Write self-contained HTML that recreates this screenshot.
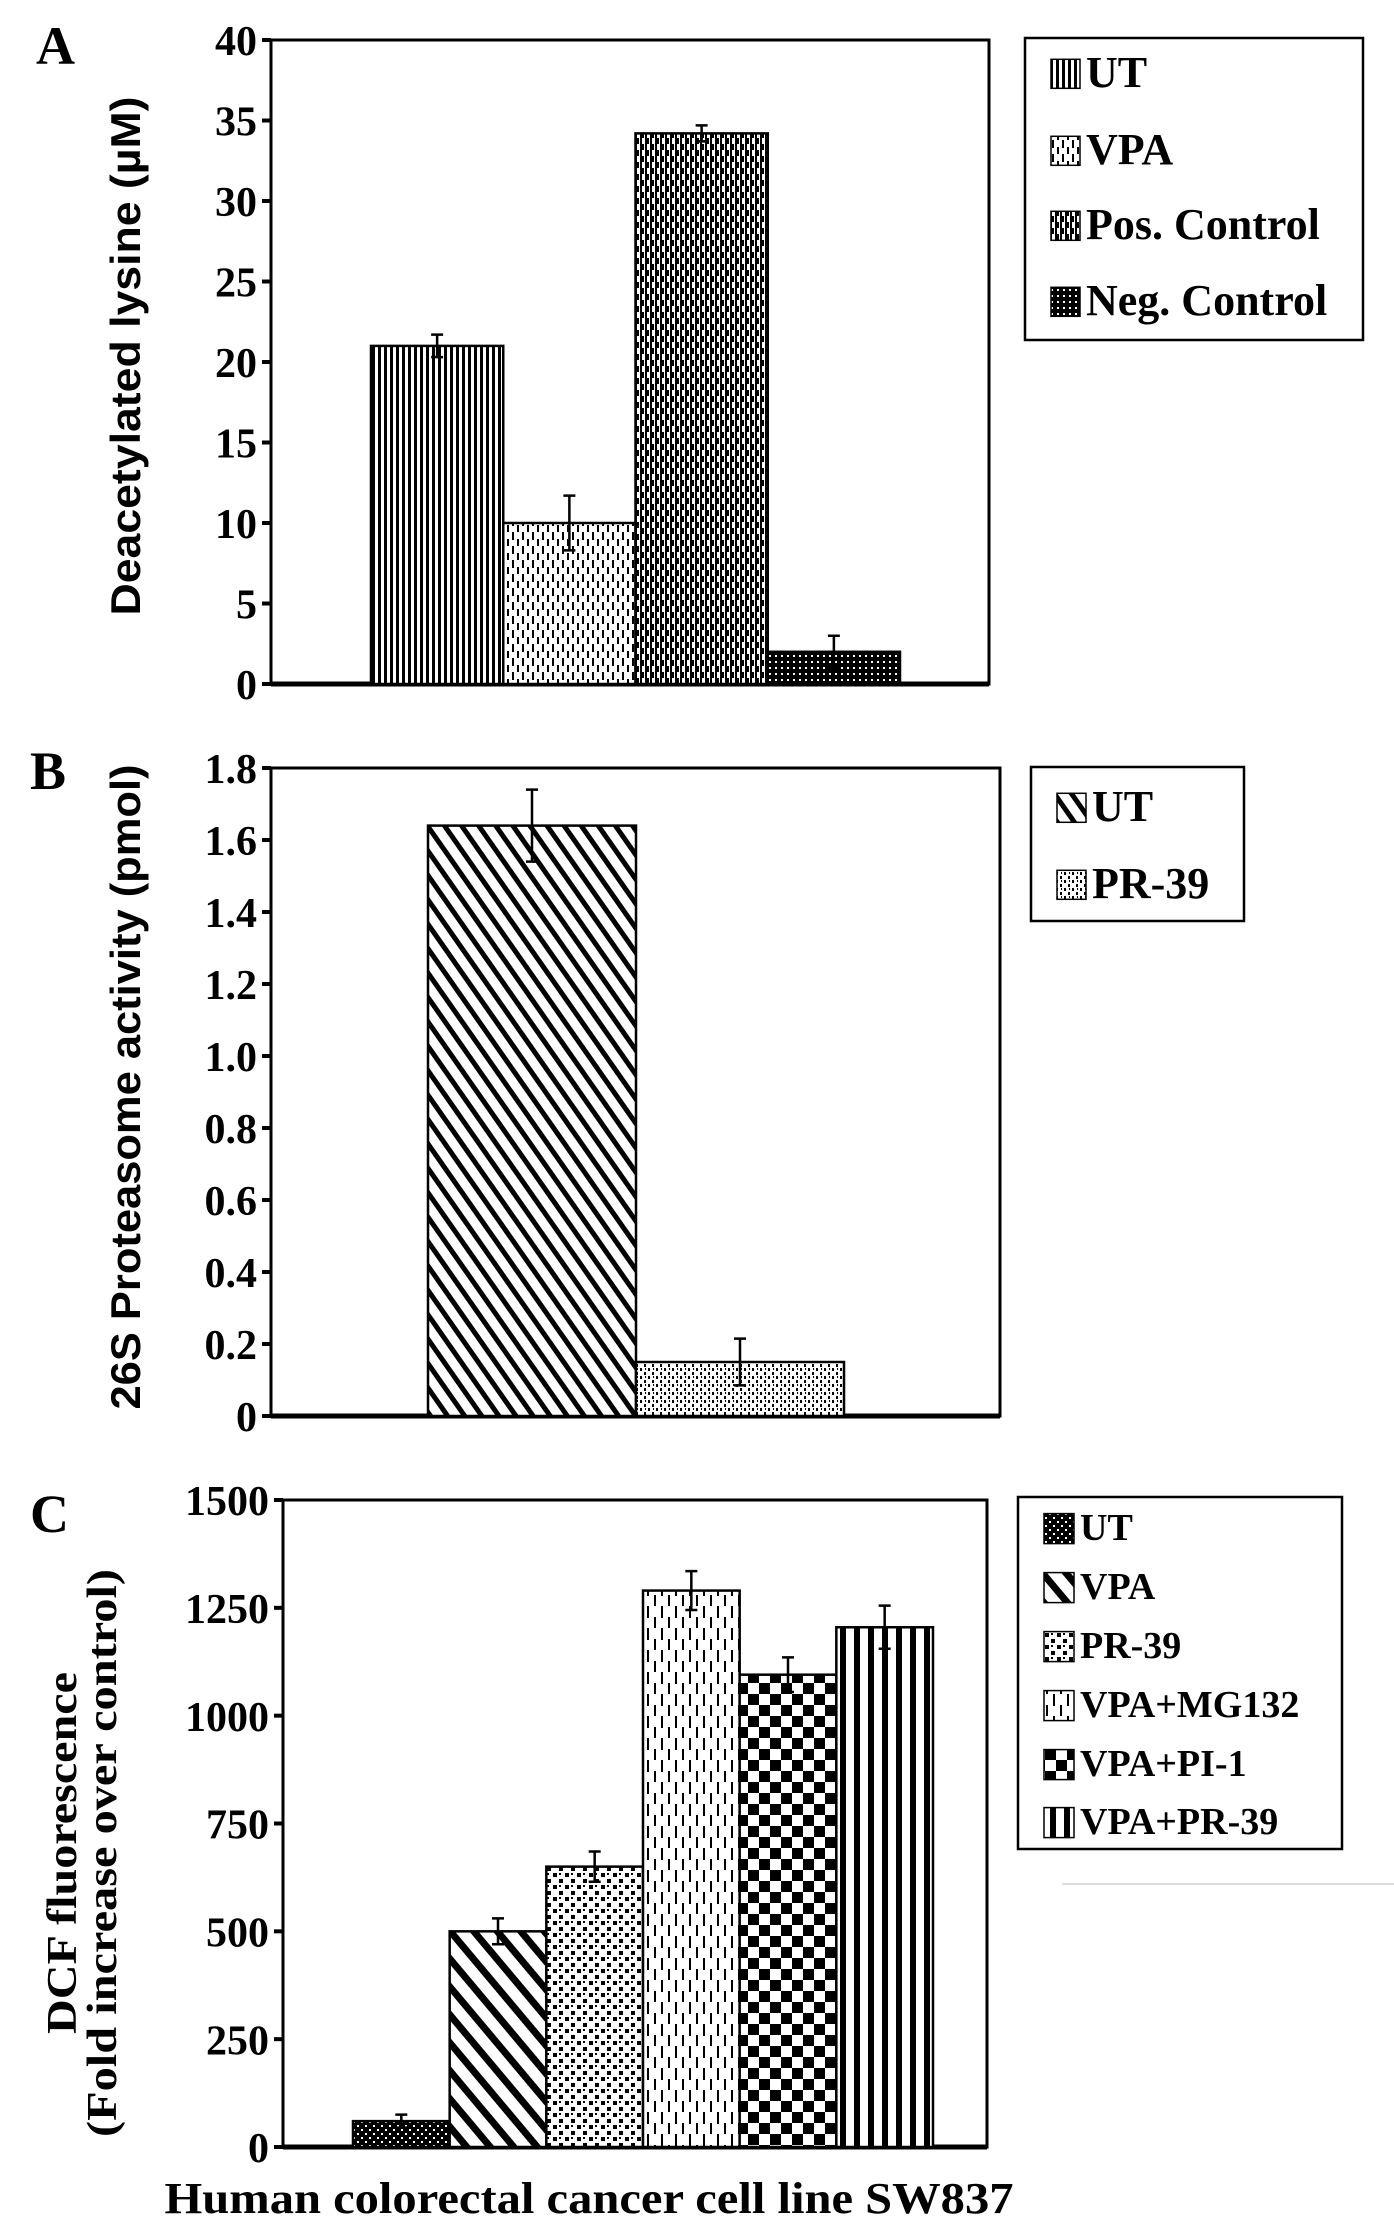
<!DOCTYPE html>
<html><head><meta charset="utf-8"><style>
html,body{margin:0;padding:0;background:#fff}
svg{display:block}
text{font-family:"Liberation Serif",serif;font-weight:bold;fill:#000}
.sans{font-family:"Liberation Sans",sans-serif;font-weight:bold}
</style></head><body>
<svg id="fig" width="1394" height="2232" viewBox="0 0 1394 2232" xmlns="http://www.w3.org/2000/svg">
<defs>
<pattern id="pVert" width="6" height="6" patternUnits="userSpaceOnUse"><rect width="6" height="6" fill="#fff"/><rect width="3" height="6" fill="#000"/></pattern>
<pattern id="pDashV" width="10" height="14" patternUnits="userSpaceOnUse"><rect width="10" height="14" fill="#fff"/><rect x="2" y="0" width="2" height="8" fill="#000"/><rect x="7" y="7" width="2" height="7" fill="#000"/></pattern>
<pattern id="pWeave" width="10" height="12" patternUnits="userSpaceOnUse"><rect width="10" height="12" fill="#fff"/><rect x="0" y="0" width="4" height="6" fill="#000"/><rect x="5" y="6" width="4" height="6" fill="#000"/><rect x="5" y="0" width="2" height="6" fill="#000"/><rect x="0" y="6" width="2" height="6" fill="#000"/></pattern>
<pattern id="pDense" width="6" height="6" patternUnits="userSpaceOnUse"><rect width="6" height="6" fill="#000"/><rect x="1" y="1" width="2" height="2" fill="#fff"/></pattern>
<pattern id="pDiag" width="14" height="14" patternUnits="userSpaceOnUse" patternTransform="rotate(-35)"><rect width="14" height="14" fill="#fff"/><rect width="5" height="14" fill="#000"/></pattern>
<pattern id="pSpeck" width="8" height="8" patternUnits="userSpaceOnUse"><rect width="8" height="8" fill="#fff"/><rect x="0" y="0" width="2" height="3" fill="#000"/><rect x="4" y="4" width="2" height="3" fill="#000"/><rect x="5" y="0" width="1" height="2" fill="#000"/></pattern>
<pattern id="pUTc" width="8" height="8" patternUnits="userSpaceOnUse"><rect width="8" height="8" fill="#000"/><rect x="1" y="1" width="2" height="2" fill="#fff"/><rect x="5" y="5" width="2" height="2" fill="#fff"/></pattern>
<pattern id="pBack" width="18" height="18" patternUnits="userSpaceOnUse" patternTransform="rotate(-40)"><rect width="18" height="18" fill="#fff"/><rect width="7" height="18" fill="#000"/></pattern>
<pattern id="pDots" width="12" height="12" patternUnits="userSpaceOnUse"><rect width="12" height="12" fill="#fff"/><rect x="1" y="1" width="4" height="4" fill="#000"/><rect x="7" y="7" width="4" height="4" fill="#000"/><rect x="7" y="1" width="2" height="2" fill="#000"/></pattern>
<pattern id="pDashes" width="14" height="22" patternUnits="userSpaceOnUse"><rect width="14" height="22" fill="#fff"/><rect x="3" y="0" width="2" height="12" fill="#000"/><rect x="10" y="11" width="2" height="11" fill="#000"/></pattern>
<pattern id="pCheck" width="22" height="22" patternUnits="userSpaceOnUse"><rect width="22" height="22" fill="#fff"/><rect width="11" height="11" fill="#000"/><rect x="11" y="11" width="11" height="11" fill="#000"/></pattern>
<pattern id="pStripes" width="14" height="10" patternUnits="userSpaceOnUse"><rect width="14" height="10" fill="#fff"/><rect width="6" height="10" fill="#000"/></pattern>
</defs>
<g id="panelA"></g>
<g id="panelB"></g>
<g id="panelC"></g>
<line x1="1062" y1="1884" x2="1394" y2="1884" stroke="#ddd" stroke-width="2"/>
</svg>
<script>
const NS='http://www.w3.org/2000/svg';
// Panel A data
const catsA=['UT','VPA','Pos. Control','Neg. Control'];
const valsA=[21,10,34.2,2];
const errA=[0.7,1.7,0.5,1];
const ticksA=['0','5','10','15','20','25','30','35','40'];
const tickValsA=[0,5,10,15,20,25,30,35,40];
// Panel B data
const catsB=['UT','PR-39'];
const valsB=[1.64,0.15];
const errB=[0.1,0.065];
const ticksB=['0','0.2','0.4','0.6','0.8','1.0','1.2','1.4','1.6','1.8'];
const tickValsB=[0,0.2,0.4,0.6,0.8,1.0,1.2,1.4,1.6,1.8];
// Panel C data
const catsC=['UT','VPA','PR-39','VPA+MG132','VPA+PI-1','VPA+PR-39'];
const valsC=[60,500,650,1290,1095,1205];
const errC=[15,30,35,45,40,50];
const ticksC=['0','250','500','750','1000','1250','1500'];
const tickValsC=[0,250,500,750,1000,1250,1500];

function mk(parent,tag,attrs,txt){const e=document.createElementNS(NS,tag);for(const k in attrs)e.setAttribute(k,attrs[k]);if(txt!==undefined)e.textContent=txt;parent.appendChild(e);return e;}

function panel(cfg){
  const g=document.getElementById(cfg.id);
  const {L,R,T,B,max}=cfg;
  const y=v=>B-(v/max)*(B-T);
  const fr=mk(g,'rect',{x:L,y:T,width:R-L,height:B-T,fill:'#fff',stroke:'#000','stroke-width':3});
  
  
  const bl=mk(g,'line',{x1:L,y1:B,x2:R,y2:B,stroke:'#000','stroke-width':5});
  
  
  cfg.tickVals.forEach((v,i)=>{
    const t=mk(g,'line',{x1:L-9,y1:y(v),x2:L,y2:y(v),stroke:'#000','stroke-width':4});
    
    
    const tl=mk(g,'text',{x:L-14,y:y(v)+cfg.fs*0.36,'text-anchor':'end','font-size':cfg.fs},cfg.ticks[i]);
    
    
  });
  const bw=(cfg.barR-cfg.barL)/cfg.vals.length;
  cfg.vals.forEach((v,i)=>{
    const x0=cfg.barL+i*bw;
    const r=mk(g,'rect',{x:x0,y:y(v),width:bw,height:B-y(v),fill:'url(#'+cfg.pats[i]+')',stroke:'#000','stroke-width':2.5});
    
    
    const cx=x0+bw/2;
    const e=mk(g,'path',{d:`M${cx},${y(v+cfg.err[i])}V${y(v-cfg.err[i])}M${cx-6},${y(v+cfg.err[i])}H${cx+6}M${cx-6},${y(v-cfg.err[i])}H${cx+6}`,stroke:'#000','stroke-width':2.5,fill:'none'});
    
    
  });
  const lg=cfg.leg;
  const lb=mk(g,'rect',{x:lg.x,y:lg.y,width:lg.w,height:lg.h,fill:'#fff',stroke:'#000','stroke-width':2.5});
  
  
  cfg.cats.forEach((c,i)=>{
    const yy=lg.ys[i];
    const sw=mk(g,'rect',{x:lg.x+26,y:yy-lg.sw/2-lg.fs*0.3,width:lg.sw,height:lg.sw,fill:'url(#'+cfg.pats[i]+')',stroke:'#000','stroke-width':1.5});
    
    
    const t=mk(g,'text',{x:lg.x+32+lg.sw,y:yy,'font-size':lg.fs},c);
    
    
  });
  const pl=mk(g,'text',{x:cfg.lab[0],y:cfg.lab[1],'font-size':54},cfg.label);
  
  
  cfg.ytitle.forEach((t,i)=>{
    const yt=mk(g,'text',{x:0,y:0,'text-anchor':'middle','font-size':cfg.yfs,textLength:cfg.ylen[i],lengthAdjust:'spacingAndGlyphs',transform:`translate(${cfg.yx[i]},${cfg.ycy}) rotate(-90)`},t);
    if(cfg.ysans) yt.setAttribute('class','sans');
    
    
  });
}
panel({id:'panelA',L:271,R:989,T:40,B:684,max:40,ticks:ticksA,tickVals:tickValsA,fs:42,
  vals:valsA,err:errA,cats:catsA,barL:371,barR:900,pats:['pVert','pDashV','pWeave','pDense'],
  leg:{x:1025,y:38,w:338,h:302,ys:[87,164,239,315],fs:44,sw:29},
  lab:[36,64],label:'A',ytitle:['Deacetylated lysine (µM)'],ylen:[519],yx:[140],ycy:356,yfs:42,ysans:true});
panel({id:'panelB',L:271,R:1000,T:768,B:1416,max:1.8,ticks:ticksB,tickVals:tickValsB,fs:42,
  vals:valsB,err:errB,cats:catsB,barL:428,barR:844,pats:['pDiag','pSpeck'],
  leg:{x:1031,y:767,w:213,h:154,ys:[821,898],fs:44,sw:29},
  lab:[30,789],label:'B',ytitle:['26S Proteasome activity (pmol)'],ylen:[645],yx:[140],ycy:1087,yfs:42,ysans:true});
panel({id:'panelC',L:283,R:987,T:1500,B:2147,max:1500,ticks:ticksC,tickVals:tickValsC,fs:42,
  vals:valsC,err:errC,cats:catsC,barL:353,barR:933,pats:['pUTc','pBack','pDots','pDashes','pCheck','pStripes'],
  leg:{x:1018,y:1497,w:324,h:352,ys:[1540,1599,1658,1717,1776,1834],fs:38,sw:30},
  lab:[30,1532],label:'C',ytitle:['DCF fluorescence','(Fold increase over control)'],ylen:[362,568],yx:[76,116],ycy:1853,yfs:42});
const xt=document.createElementNS(NS,'text');
xt.setAttribute('x',589);xt.setAttribute('y',2213);xt.setAttribute('text-anchor','middle');xt.setAttribute('font-size',44);
xt.setAttribute('textLength',849);xt.setAttribute('lengthAdjust','spacingAndGlyphs');
xt.textContent='Human colorectal cancer cell line SW837';


document.getElementById('panelC').appendChild(xt);
</script>
</body></html>
